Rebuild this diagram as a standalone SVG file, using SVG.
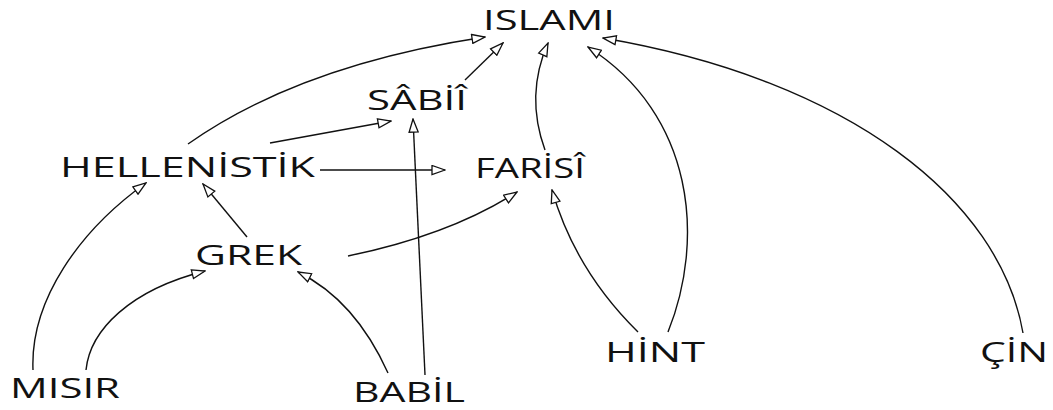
<svg xmlns="http://www.w3.org/2000/svg" width="1053" height="410" viewBox="0 0 1053 410">
<style>
.lbl{font-family:"Open Sans","DejaVu Sans",sans-serif;font-size:28px;fill:#111;}
.c{fill:none;stroke:#111;stroke-width:1.4;marker-end:url(#ah);}
</style>
<defs>
<marker id="ah" viewBox="-1 -1 15 11" refX="13" refY="4.5" markerWidth="15" markerHeight="11" markerUnits="userSpaceOnUse" orient="auto">
<path d="M0,0 L13,4.5 L0,9 Z" fill="#fff" stroke="#111" stroke-width="1.3"/>
</marker>
</defs>
<rect width="1053" height="410" fill="#fff"/>
<g id="connectors">
<path class="c" d="M188,144 Q300,65 485,37"/>
<path class="c" d="M465,80 L503,43"/>
<path class="c" d="M545,150 Q525,95 548,43"/>
<path class="c" d="M668,332 C705,240 695,115 588,47"/>
<path class="c" d="M1023,333 C1000,200 850,80 603,38"/>
<path class="c" d="M270,143 L391,121"/>
<path class="c" d="M425,375 L413,119"/>
<path class="c" d="M320,170 L445,170"/>
<path class="c" d="M348,256 Q450,235 517,192"/>
<path class="c" d="M247,237 L203,184"/>
<path class="c" d="M33,370 C30,300 80,230 146,183"/>
<path class="c" d="M86,370 C90,330 130,290 205,271"/>
<path class="c" d="M388,373 Q355,300 298,272"/>
<path class="c" d="M638,332 Q575,270 552,190"/>
</g>
<g id="islami"><text class="lbl" x="483" y="30" textLength="132" lengthAdjust="spacingAndGlyphs">ISLAMI</text></g>
<g id="sabii"><text class="lbl" x="367" y="110" textLength="100" lengthAdjust="spacingAndGlyphs">SÂBİÎ</text></g>
<g id="hellenistik"><text class="lbl" x="60" y="177" textLength="255" lengthAdjust="spacingAndGlyphs">HELLENİSTİK</text></g>
<g id="farisi"><text class="lbl" x="475" y="178" textLength="110" lengthAdjust="spacingAndGlyphs">FARİSÎ</text></g>
<g id="grek"><text class="lbl" x="195" y="265" textLength="107" lengthAdjust="spacingAndGlyphs">GREK</text></g>
<g id="misir"><text class="lbl" x="10" y="398" textLength="110" lengthAdjust="spacingAndGlyphs">MISIR</text></g>
<g id="babil"><text class="lbl" x="353" y="402" textLength="112" lengthAdjust="spacingAndGlyphs">BABİL</text></g>
<g id="hint"><text class="lbl" x="605" y="362" textLength="100" lengthAdjust="spacingAndGlyphs">HİNT</text></g>
<g id="cin"><text class="lbl" x="980" y="362" textLength="68" lengthAdjust="spacingAndGlyphs">ÇİN</text></g>
</svg>
